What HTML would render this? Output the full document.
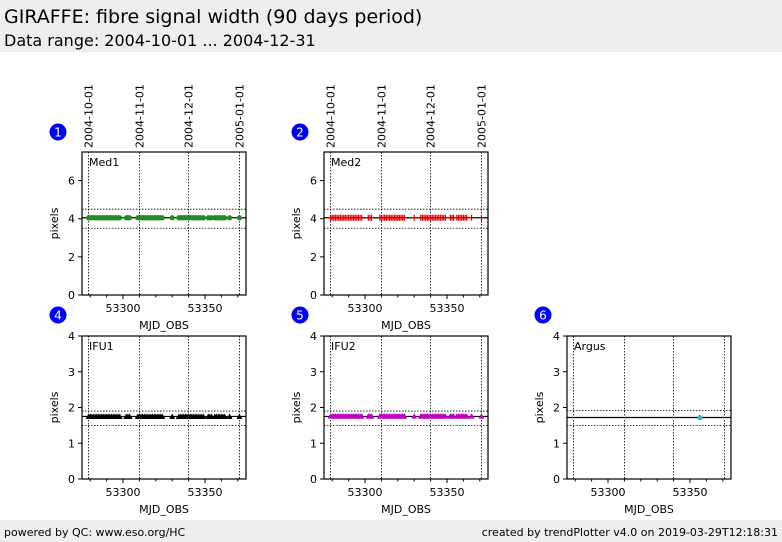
<!DOCTYPE html>
<html><head><meta charset="utf-8"><style>
body{margin:0;width:782px;height:542px;background:#fff;font-family:"DejaVu Sans","Liberation Sans",sans-serif;overflow:hidden;position:relative}
.hdr{position:absolute;left:0;top:0;width:782px;height:52px;background:#eeeeee}
.ftr{position:absolute;left:0;top:520px;width:782px;height:22px;background:#eeeeee;font-size:11px}
</style></head><body>
<div class="hdr">
<div style="position:absolute;left:4px;top:6px;font-size:19px">GIRAFFE: fibre signal width (90 days period)</div>
<div style="position:absolute;left:4px;top:31px;font-size:16px">Data range: 2004-10-01 ... 2004-12-31</div>
</div>
<div class="ftr">
<span style="position:absolute;left:4px;top:6px">powered by QC: www.eso.org/HC</span>
<span style="position:absolute;right:4px;top:6px">created by trendPlotter v4.0 on 2019-03-29T12:18:31</span>
</div>
<svg id="c" width="782" height="542" style="position:absolute;left:0;top:0"></svg>
<script>
const dates=[53279,53280,53281,53282,53283,53284,53285,53286,53287,53288,53289,53290,53291,53292,53293,53294,53295,53296,53297,53298,53302,53303,53304,53309,53310,53311,53312,53313,53314,53315,53316,53317,53318,53319,53320,53321,53322,53323,53324,53330,53334,53335,53336,53337,53338,53339,53340,53341,53342,53343,53344,53345,53346,53347,53348,53349,53352,53353,53354,53356,53357,53358,53359,53360,53361,53362,53365,53371];
const med1Vals=dates.map(()=>4.05);
const med2Vals=dates.map(()=>4.05);
const ifu1Vals=dates.map(()=>1.75);
const ifu2Vals=dates.map(()=>1.76);
const argusDates=[53356];
const argusVals=[1.72];
const dateTicks=["2004-10-01","2004-11-01","2004-12-01","2005-01-01"];
const dateTickMjd=[53279,53310,53340,53371];
const xTicks=[53300,53350];
const panels=[
 {n:"1",name:"Med1",x:82,y:152,ymax:7.5,yt:[0,2,4,6],mid:4.05,hi:4.5,lo:3.5,d:dates,v:med1Vals,col:"#228b22",m:"dot",top:true},
 {n:"2",name:"Med2",x:324,y:152,ymax:7.5,yt:[0,2,4,6],mid:4.05,hi:4.5,lo:3.5,d:dates,v:med2Vals,col:"#dd0000",m:"plus",top:true},
 {n:"4",name:"IFU1",x:82,y:336,ymax:4,yt:[0,1,2,3,4],mid:1.75,hi:1.9,lo:1.5,d:dates,v:ifu1Vals,col:"#000",m:"tri"},
 {n:"5",name:"IFU2",x:324,y:336,ymax:4,yt:[0,1,2,3,4],mid:1.75,hi:1.9,lo:1.5,d:dates,v:ifu2Vals,col:"#c000c0",m:"tri"},
 {n:"6",name:"Argus",x:567,y:336,ymax:4,yt:[0,1,2,3,4],mid:1.72,hi:1.92,lo:1.5,d:argusDates,v:argusVals,col:"#20c0c0",m:"dot"}
];
const svg=document.getElementById('c');const NS="http://www.w3.org/2000/svg";
function mk(t,a,p){const e=document.createElementNS(NS,t);for(const k in a)e.setAttribute(k,a[k]);(p||svg).appendChild(e);return e;}
const W=164,H=143,X0=53275,X1=53375;
panels.forEach(p=>{
 const g=mk('g',{});
 
 
 const sx=v=>p.x+(v-X0)/(X1-X0)*W, sy=v=>p.y+H-v/p.ymax*H;
 dateTickMjd.forEach((m,i)=>{mk('line',{x1:sx(m),x2:sx(m),y1:p.y,y2:p.y+H,stroke:'#000','stroke-width':0.8,'stroke-dasharray':'1.5,1.5'},g);
  if(p.top){const t=mk('text',{x:0,y:0,'font-size':11,transform:`translate(${sx(m)+4},148) rotate(-90)`},g);t.textContent=dateTicks[i];
  }});
 [p.hi,p.lo].forEach(v=>mk('line',{x1:p.x,x2:p.x+W,y1:sy(v),y2:sy(v),stroke:'#000','stroke-width':0.8,'stroke-dasharray':'1.5,1.5'},g));
 mk('line',{x1:p.x,x2:p.x+W,y1:sy(p.mid),y2:sy(p.mid),stroke:'#000','stroke-width':1.2},g);
 p.d.forEach((d,i)=>{const cx=sx(d),cy=sy(p.v[i]);let e;
  if(p.m==='dot')e=mk('circle',{cx,cy,r:2.6,fill:p.col},g);
  else if(p.m==='plus')e=mk('path',{d:`M${cx-2.5},${cy}h5M${cx},${cy-3}v6`,stroke:p.col,'stroke-width':1.2},g);
  else e=mk('path',{d:`M${cx-3},${cy+2.5}L${cx},${cy-3}L${cx+3},${cy+2.5}Z`,fill:p.col},g);
  });
 mk('rect',{x:p.x,y:p.y,width:W,height:H,fill:'none',stroke:'#000','stroke-width':1.2},g);
 p.yt.forEach(v=>{mk('line',{x1:p.x-4,x2:p.x,y1:sy(v),y2:sy(v),stroke:'#000'},g);
  const t=mk('text',{x:p.x-7,y:sy(v)+4,'font-size':11,'text-anchor':'end'},g);t.textContent=v;});
 for(let m=53280;m<=53370;m+=10){mk('line',{x1:sx(m),x2:sx(m),y1:p.y+H,y2:p.y+H+(m%50==0?4:2.5),stroke:'#000'},g);}
 xTicks.forEach(v=>{const t=mk('text',{x:sx(v),y:p.y+H+17,'font-size':11,'text-anchor':'middle'},g);t.textContent=v;});
 let t=mk('text',{x:p.x+W/2,y:p.y+H+34,'font-size':11,'text-anchor':'middle'},g);t.textContent='MJD_OBS';
 t=mk('text',{x:0,y:0,'font-size':11,'text-anchor':'middle',transform:`translate(${p.x-24},${p.y+H/2}) rotate(-90)`},g);t.textContent='pixels';
 t=mk('text',{x:p.x+7,y:p.y+14,'font-size':11},g);t.textContent=p.name;
 const cy=p.top?132:315,cx=p.x-24;
 mk('circle',{cx,cy,r:8.5,fill:'#0000ff'},g);
 t=mk('text',{x:cx,y:cy+4.5,'font-size':12,fill:'#fff','text-anchor':'middle'},g);t.textContent=p.n;
});
</script>
</body></html>
